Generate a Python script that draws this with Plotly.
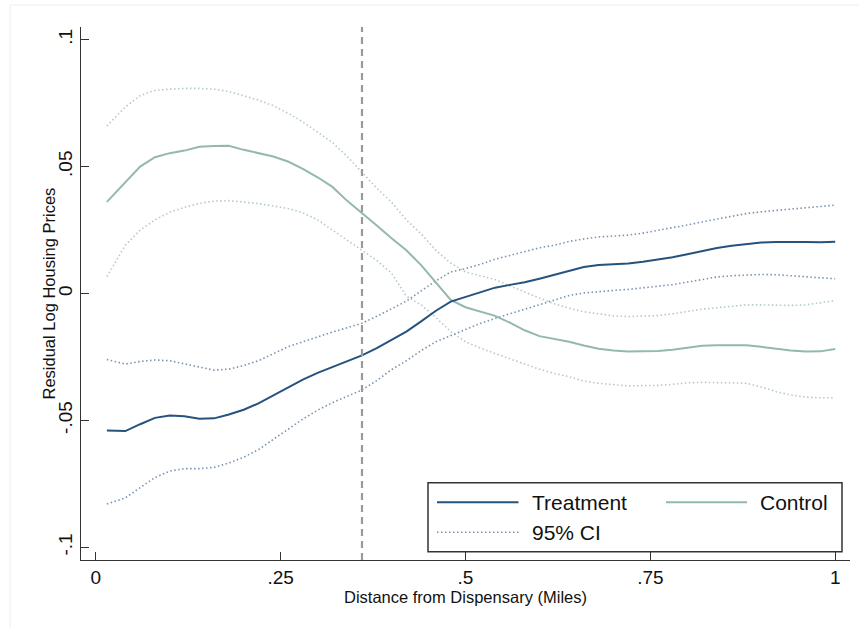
import plotly.graph_objects as go

# ---------------- data ----------------
distance = [0.015, 0.04, 0.06, 0.08, 0.10, 0.12, 0.14, 0.16, 0.18, 0.20,
            0.22, 0.24, 0.26, 0.28, 0.30, 0.32, 0.34, 0.36, 0.38, 0.40,
            0.42, 0.44, 0.46, 0.48, 0.50, 0.52, 0.54, 0.56, 0.58, 0.60,
            0.62, 0.64, 0.66, 0.68, 0.70, 0.72, 0.74, 0.76, 0.78, 0.80,
            0.82, 0.84, 0.86, 0.88, 0.90, 0.92, 0.94, 0.96, 0.98, 1.00]

treatment = [-0.0540, -0.0542, -0.0515, -0.0490, -0.0481, -0.0484, -0.0493, -0.0492, -0.0477, -0.0458,
             -0.0433, -0.0401, -0.0369, -0.0339, -0.0313, -0.0290, -0.0266, -0.0244, -0.0215, -0.0183,
             -0.0150, -0.0110, -0.0068, -0.0032, -0.0013, 0.0005, 0.0023, 0.0034, 0.0044, 0.0058,
             0.0074, 0.0090, 0.0104, 0.0112, 0.0114, 0.0118, 0.0125, 0.0133, 0.0143, 0.0155,
             0.0167, 0.0179, 0.0188, 0.0195, 0.0201, 0.0203, 0.0204, 0.0203, 0.0202, 0.0204]

treatment_hi = [-0.0260, -0.0278, -0.0268, -0.0262, -0.0265, -0.0278, -0.0292, -0.0302, -0.0298, -0.0284,
                -0.0265, -0.0238, -0.0210, -0.0190, -0.0170, -0.0152, -0.0135, -0.0117, -0.0090, -0.0060,
                -0.0030, 0.0010, 0.0050, 0.0085, 0.0098, 0.0115, 0.0135, 0.0150, 0.0165, 0.0180,
                0.0190, 0.0205, 0.0215, 0.0223, 0.0226, 0.0230, 0.0238, 0.0248, 0.0258, 0.0270,
                0.0282, 0.0293, 0.0305, 0.0315, 0.0322, 0.0328, 0.0333, 0.0338, 0.0343, 0.0348]

treatment_lo = [-0.0829, -0.0805, -0.0765, -0.0725, -0.0700, -0.0690, -0.0690, -0.0685, -0.0668, -0.0645,
                -0.0615, -0.0575, -0.0535, -0.0495, -0.0460, -0.0430, -0.0405, -0.0380, -0.0343, -0.0300,
                -0.0265, -0.0225, -0.0190, -0.0165, -0.0140, -0.0118, -0.0098, -0.0080, -0.0063, -0.0045,
                -0.0025, -0.0008, 0.0002, 0.0008, 0.0012, 0.0016, 0.0022, 0.0028, 0.0035, 0.0045,
                0.0056, 0.0065, 0.0070, 0.0074, 0.0075, 0.0074, 0.0070, 0.0065, 0.0060, 0.0058]

control = [0.0361, 0.0440, 0.0500, 0.0537, 0.0553, 0.0563, 0.0578, 0.0581, 0.0582, 0.0566,
           0.0553, 0.0540, 0.0520, 0.0491, 0.0458, 0.0420, 0.0365, 0.0318, 0.0268, 0.0218,
           0.0170, 0.0112, 0.0045, -0.0025, -0.0054, -0.0070, -0.0088, -0.0115, -0.0145, -0.0168,
           -0.0178, -0.0190, -0.0205, -0.0218, -0.0225, -0.0229, -0.0228, -0.0227, -0.0222, -0.0213,
           -0.0206, -0.0204, -0.0203, -0.0204, -0.0210, -0.0219, -0.0225, -0.0229, -0.0228, -0.0219]

control_hi = [0.0660, 0.0735, 0.0780, 0.0800, 0.0805, 0.0808, 0.0808, 0.0805, 0.0796, 0.0780,
              0.0762, 0.0740, 0.0710, 0.0676, 0.0635, 0.0595, 0.0540, 0.0476, 0.0415, 0.0360,
              0.0290, 0.0235, 0.0170, 0.0120, 0.0085, 0.0070, 0.0055, 0.0030, 0.0005, -0.0018,
              -0.0040, -0.0058, -0.0072, -0.0081, -0.0088, -0.0091, -0.0090, -0.0087, -0.0080, -0.0070,
              -0.0062, -0.0056, -0.0050, -0.0045, -0.0045, -0.0046, -0.0047, -0.0045, -0.0038, -0.0028]

control_lo = [0.0067, 0.0190, 0.0250, 0.0290, 0.0320, 0.0340, 0.0355, 0.0364, 0.0366, 0.0360,
              0.0354, 0.0345, 0.0335, 0.0318, 0.0290, 0.0250, 0.0210, 0.0173, 0.0130, 0.0080,
              -0.0010, -0.0045, -0.0095, -0.0150, -0.0190, -0.0215, -0.0237, -0.0257, -0.0278, -0.0298,
              -0.0315, -0.0328, -0.0345, -0.0354, -0.0360, -0.0364, -0.0363, -0.0362, -0.0358, -0.0352,
              -0.0350, -0.0350, -0.0352, -0.0354, -0.0368, -0.0387, -0.0400, -0.0408, -0.0411, -0.0411]

cutoff = 0.36

x_ticks = [0, 0.25, 0.5, 0.75, 1]
x_tick_labels = ["0", ".25", ".5", ".75", "1"]
y_ticks = [-0.1, -0.05, 0, 0.05, 0.1]
y_tick_labels = ["-.1", "-.05", "0", ".05", ".1"]

legend_labels = ["Treatment", "Control", "95% CI"]

# ---------------- styles ----------------
C_TRT = "#26527e"
C_CTL = "#93b9ab"
C_TRT_CI = "#7893b3"
C_CTL_CI = "#b3cbc3"
FONT = "Liberation Sans, Arial, sans-serif"
DOT = "1.5px,2.5px"

W, H = 859, 627
L, R, T, B = 81, 9, 27, 67
PW, PH = W - L - R, H - T - B


def px(xp):
    return (xp - L) / PW


def py(yp):
    return (H - B - yp) / PH


fig = go.Figure()

for ys, col in [(control_hi, C_CTL_CI), (control_lo, C_CTL_CI),
                (treatment_hi, C_TRT_CI), (treatment_lo, C_TRT_CI)]:
    fig.add_trace(go.Scatter(x=distance, y=ys, mode="lines", name=legend_labels[2],
                             line=dict(color=col, width=1.6, dash=DOT),
                             showlegend=False, hoverinfo="skip"))
fig.add_trace(go.Scatter(x=distance, y=control, mode="lines", name=legend_labels[1],
                         line=dict(color=C_CTL, width=2), showlegend=False))
fig.add_trace(go.Scatter(x=distance, y=treatment, mode="lines", name=legend_labels[0],
                         line=dict(color=C_TRT, width=2), showlegend=False))

# vertical cutoff line
fig.add_shape(type="line", xref="x", yref="paper", x0=cutoff, x1=cutoff, y0=0, y1=1,
              line=dict(color="#999999", width=2.2, dash="7px,5px"))

# faint outer graph-region outline
fig.add_shape(type="rect", xref="paper", yref="paper",
              x0=px(10), x1=px(W + 20), y0=py(5), y1=py(H + 20),
              line=dict(color="#eeeeee", width=1), layer="below")

# custom legend (Stata style)
fig.add_shape(type="rect", xref="paper", yref="paper",
              x0=px(428), x1=px(842), y0=py(551.7), y1=py(482.7),
              line=dict(color="#333333", width=1.5), fillcolor="white")
row1, row2 = 502.3, 532.3
fig.add_shape(type="line", xref="paper", yref="paper", x0=px(437), x1=px(518.5),
              y0=py(row1), y1=py(row1), line=dict(color=C_TRT, width=2))
fig.add_shape(type="line", xref="paper", yref="paper", x0=px(666), x1=px(747),
              y0=py(row1), y1=py(row1), line=dict(color=C_CTL, width=2))
fig.add_shape(type="line", xref="paper", yref="paper", x0=px(437), x1=px(518.5),
              y0=py(row2), y1=py(row2), line=dict(color=C_TRT_CI, width=1.6, dash=DOT))
for label, xl, yl in [(legend_labels[0], 530, row1), (legend_labels[1], 758, row1),
                      (legend_labels[2], 530, row2)]:
    fig.add_annotation(text=label, xref="paper", yref="paper", x=px(xl), y=py(yl),
                       xanchor="left", yanchor="middle", showarrow=False,
                       font=dict(family=FONT, size=21, color="#111111"))

# y-axis title (placed as rotated text)
fig.add_annotation(text="Residual Log Housing Prices", xref="paper", yref="paper",
                   x=px(48), y=0.5, textangle=-90, showarrow=False,
                   xanchor="center", yanchor="middle",
                   font=dict(family=FONT, size=16.5, color="#111111"))

fig.update_layout(
    width=W, height=H,
    margin=dict(l=L, r=R, t=T, b=B, autoexpand=False),
    paper_bgcolor="white", plot_bgcolor="white",
    font=dict(family=FONT, color="#111111"),
    showlegend=False,
)

fig.update_xaxes(range=[-0.02, 1.02], tickvals=x_ticks, ticktext=x_tick_labels,
                 ticks="inside", ticklen=8, tickwidth=1.3, tickcolor="#333333",
                 showline=True, linecolor="#333333", linewidth=1.4,
                 showgrid=False, zeroline=False,
                 tickfont=dict(family=FONT, size=19, color="#111111"),
                 title=dict(text="Distance from Dispensary (Miles)",
                            font=dict(family=FONT, size=16.5, color="#111111"), standoff=4),
                 automargin=False)
fig.update_yaxes(range=[-0.105, 0.105], tickvals=y_ticks, ticktext=y_tick_labels,
                 tickangle=-90,
                 ticks="inside", ticklen=8, tickwidth=1.3, tickcolor="#333333",
                 showline=True, linecolor="#333333", linewidth=1.4,
                 showgrid=False, zeroline=False,
                 tickfont=dict(family=FONT, size=19, color="#111111"),
                 automargin=False)

fig.write_html("out.html", config={"displayModeBar": False},
               post_script="document.body.style.margin='0px';document.body.style.padding='0px';")
